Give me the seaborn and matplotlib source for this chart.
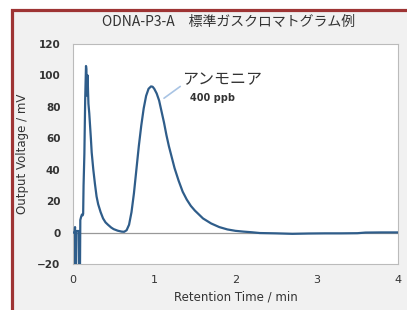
import numpy as np
import pandas as pd
import matplotlib
matplotlib.use("Agg")
import matplotlib.pyplot as plt
import matplotlib.patches as patches
import seaborn as sns

# --- chromatogram trace ---
time_min = [0.00, 0.02, 0.025, 0.028, 0.035, 0.04, 0.07, 0.075, 0.085, 0.09,
            0.10, 0.11, 0.12, 0.125, 0.13, 0.14, 0.15, 0.16, 0.165, 0.17,
            0.175, 0.18, 0.185, 0.19, 0.20, 0.21, 0.22, 0.23, 0.25, 0.27,
            0.29, 0.31, 0.34, 0.37, 0.40, 0.43, 0.47, 0.50, 0.55, 0.60,
            0.63, 0.66, 0.69, 0.72, 0.75, 0.78, 0.81, 0.84, 0.87, 0.90,
            0.93, 0.96, 0.98, 1.00, 1.03, 1.06, 1.09, 1.12, 1.15, 1.18,
            1.21, 1.25, 1.30, 1.35, 1.40, 1.45, 1.50, 1.60, 1.70, 1.80,
            1.90, 2.00, 2.10, 2.20, 2.30, 2.50, 2.70, 2.90, 3.10, 3.30,
            3.50, 3.60, 3.80, 4.00]
voltage_mv = [0.0, 0.0, 3.5, -30, -30, 1.0, 1.0, -30, -30, 8.0,
              10.0, 11.5, 11.0, 12.0, 30, 50, 85, 106, 104, 90,
              87, 100, 90, 82, 76, 68, 60, 51, 40, 31,
              23, 18, 13, 9.0, 6.5, 5.0, 3.2, 2.2, 1.2, 0.6,
              0.5, 1.5, 5.0, 13, 25, 40, 55, 68, 79, 87,
              91.5, 93, 92.8, 91.5, 88.5, 84, 77, 70, 62, 55,
              49, 41, 33, 26, 21, 17, 14, 9.0, 5.8, 3.5,
              2.0, 1.1, 0.6, 0.2, -0.3, -0.5, -0.8, -0.6, -0.5, -0.5,
              -0.4, 0.0, 0.1, 0.1]

x_ticks = [0, 1, 2, 3, 4]
y_ticks = [-20, 0, 20, 40, 60, 80, 100, 120]

title_text = "ODNA-P3-A\u3000標準ガスクロマトグラム例"
peak_name = "アンモニア"
peak_conc = "400 ppb"

df = pd.DataFrame({"t": time_min, "v": voltage_mv})

sns.set_style("white")
plt.rcParams["font.family"] = ["DejaVu Sans", "Noto Sans CJK JP"]

fig = plt.figure(figsize=(4.07, 3.10), dpi=100, facecolor="white")

# panel background with dark red frame
panel = patches.Rectangle((11.5 / 407, -0.1), 1.2, 1 - 9.5 / 310 + 0.1,
                          transform=fig.transFigure, facecolor="#f1f1f1",
                          edgecolor="#9e3434", linewidth=2.3, zorder=0)
fig.add_artist(panel)

ax = fig.add_axes([73 / 407, 1 - 264 / 310, 325 / 407, 220 / 310])
ax.set_facecolor("white")

ax.axhline(0, color="#999999", lw=0.9, zorder=1)
sns.lineplot(data=df, x="t", y="v", ax=ax, estimator=None, sort=False,
             color="#2f5d8a", lw=1.6, zorder=3)

ax.set_xlim(0, 4)
ax.set_ylim(-20, 120)
ax.set_xticks(x_ticks)
ax.set_xticks(np.arange(0, 4.01, 0.5), minor=True)
ax.set_yticks(y_ticks)
ax.tick_params(axis="x", which="both", direction="in", length=3,
               color="#999999", labelsize=8, labelcolor="#333333", pad=8)
ax.tick_params(axis="y", direction="out", length=3, color="#999999",
               labelsize=7.5, labelcolor="#333333", pad=6)
for lab in ax.get_yticklabels():
    lab.set_fontweight("bold")
for s in ax.spines.values():
    s.set_color("#bbbbbb")
    s.set_linewidth(0.8)

ax.set_xlabel("Retention Time / min", fontsize=8.5, color="#333333", labelpad=4)
ax.set_ylabel("Output Voltage / mV", fontsize=8.5, color="#333333", labelpad=6)

# peak annotation
ax.plot([1.12, 1.32], [85.5, 93], color="#a9c4e4", lw=1.2, zorder=2)
ax.text(1.34, 97, peak_name, fontsize=11.5, color="#333333",
        family=["Noto Sans CJK JP", "DejaVu Sans"], va="center", ha="left")
ax.text(1.44, 85.5, peak_conc, fontsize=7, fontweight="bold", color="#333333",
        va="center", ha="left")

fig.text(229 / 407, 1 - 22 / 310, title_text, fontsize=10, color="#333333",
         family=["Noto Sans CJK JP", "DejaVu Sans"], ha="center", va="center")

fig.savefig("out.png", dpi=100, facecolor=fig.get_facecolor())
